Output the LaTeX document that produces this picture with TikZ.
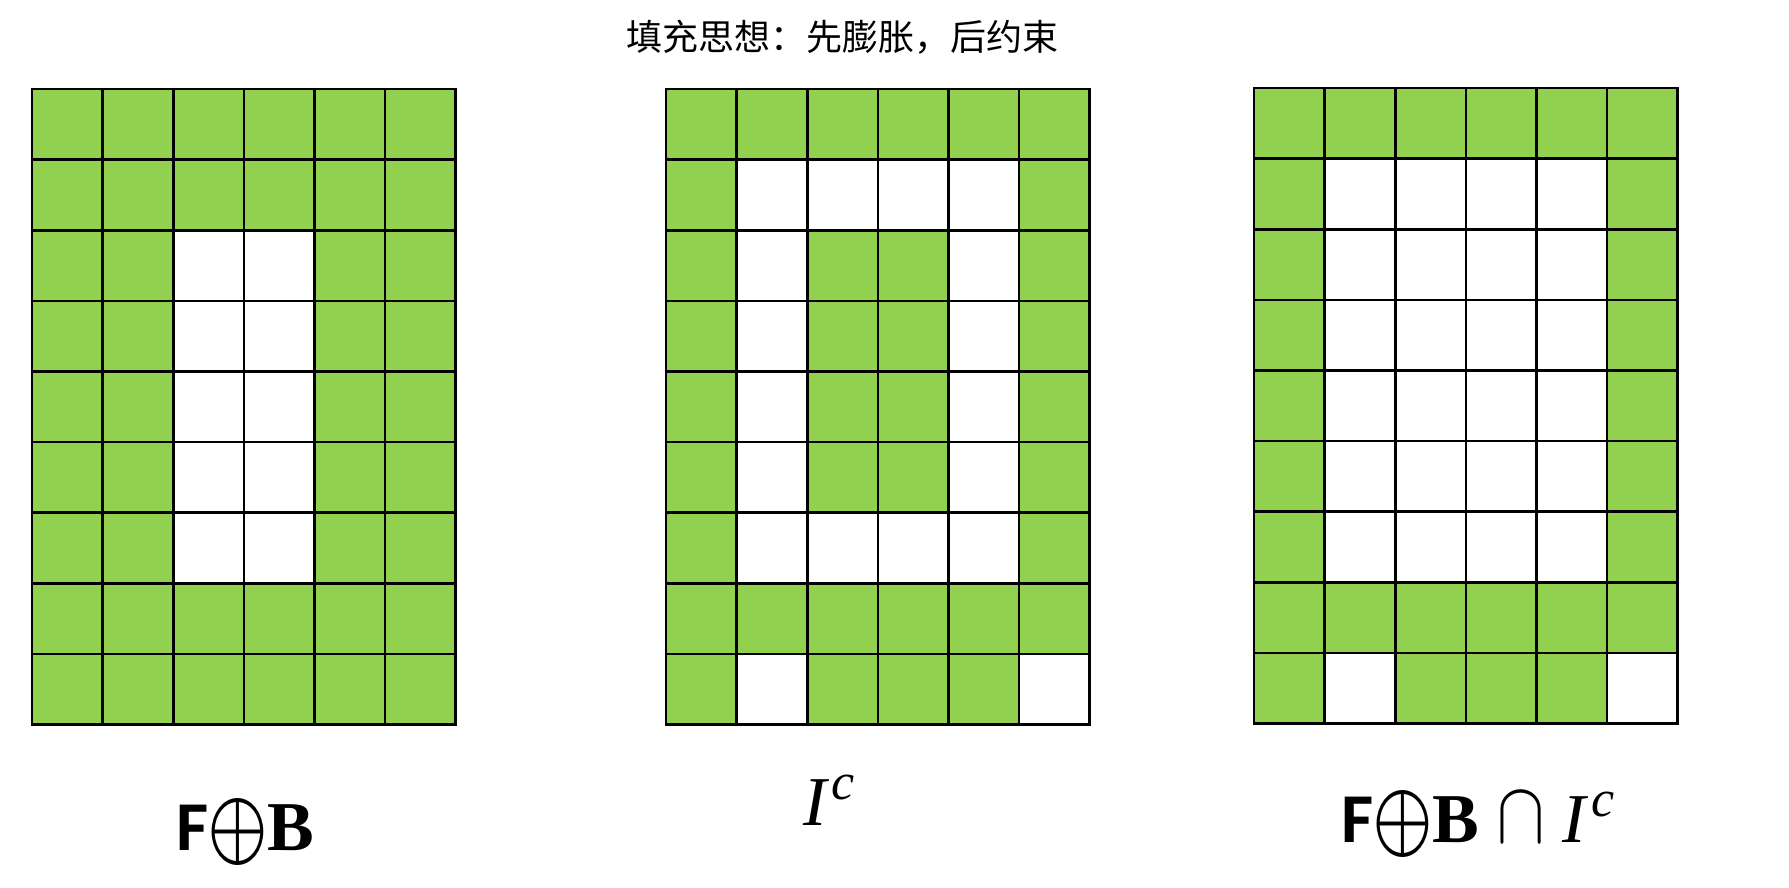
\documentclass[tikz,border=0pt]{standalone}
\usepackage{fontspec}
\usepackage{graphicx}
\setmainfont{Liberation Serif}
\newfontfamily\cjk{Noto Sans CJK SC}
\newfontfamily\lmm{Latin Modern Math}
\newfontfamily\carl{Carlito}
\definecolor{cellgreen}{HTML}{92D050}
\newcommand{\opl}{\raisebox{-0.09em}{\scalebox{1.08}[1.4]{\lmm ⊕}}}
\newcommand{\FB}{{\carl\bfseries F}\opl{\bfseries B}}
\newcommand{\Ic}{{\itshape I}\kern0.08em\raisebox{0.36em}{\fontsize{52}{52}\selectfont\itshape c}}
\newcommand{\capo}{\scalebox{1.05}[1.25]{\lmm ∩}}
\begin{document}
\begin{tikzpicture}[x=1pt,y=-1pt,
  gridline/.style={line width=2.6pt,line cap=rect},
  lbl/.style={font=\fontsize{70}{72}\selectfont,inner sep=0pt,anchor=base},
  ttl/.style={font=\fontsize{36}{40}\selectfont\cjk,inner sep=0pt,anchor=base}]
\useasboundingbox (0,0) rectangle (1789,888);
\def\cs{70.6}
% ---------- grid 1 : F+B ----------
\begin{scope}[shift={(32,89)}]
  \fill[cellgreen] (0,0) rectangle (6*\cs,9*\cs);
  \foreach \r in {2,...,6}{\foreach \c in {2,3}{
    \fill[white] (\c*\cs,\r*\cs) rectangle ++(\cs,\cs);}}
  \foreach \c in {0,...,6}{\draw[gridline] (\c*\cs,0) -- (\c*\cs,9*\cs);}
  \foreach \r in {0,...,9}{\draw[gridline] (0,\r*\cs) -- (6*\cs,\r*\cs);}
\end{scope}
% ---------- grid 2 : I^c ----------
\begin{scope}[shift={(666,89)}]
  \fill[cellgreen] (0,0) rectangle (6*\cs,9*\cs);
  \foreach \c/\r in {1/1,2/1,3/1,4/1, 1/2,4/2,1/3,4/3,1/4,4/4,1/5,4/5,
                     1/6,2/6,3/6,4/6, 1/8,5/8}{
    \fill[white] (\c*\cs,\r*\cs) rectangle ++(\cs,\cs);}
  \foreach \c in {0,...,6}{\draw[gridline] (\c*\cs,0) -- (\c*\cs,9*\cs);}
  \foreach \r in {0,...,9}{\draw[gridline] (0,\r*\cs) -- (6*\cs,\r*\cs);}
\end{scope}
% ---------- grid 3 : intersection ----------
\begin{scope}[shift={(1254,88)}]
  \fill[cellgreen] (0,0) rectangle (6*\cs,9*\cs);
  \foreach \r in {1,...,6}{\foreach \c in {1,...,4}{
    \fill[white] (\c*\cs,\r*\cs) rectangle ++(\cs,\cs);}}
  \foreach \c in {1,5}{\fill[white] (\c*\cs,8*\cs) rectangle ++(\cs,\cs);}
  \foreach \c in {0,...,6}{\draw[gridline] (\c*\cs,0) -- (\c*\cs,9*\cs);}
  \foreach \r in {0,...,9}{\draw[gridline] (0,\r*\cs) -- (6*\cs,\r*\cs);}
\end{scope}
% ---------- texts ----------
\node[ttl] (title) at (842,51) {填充思想：先膨胀，后约束};
\node[lbl] (lab1) at (245,850) {\FB};
\node[lbl] (lab2) at (829,825) {\Ic};
\node[lbl] (lab3) at (1478,842) {\FB\kern0.25em\capo\kern0.25em\Ic};
\end{tikzpicture}
\end{document}
